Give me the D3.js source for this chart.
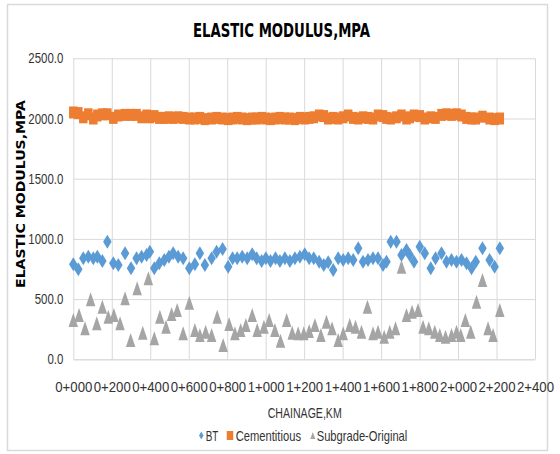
<!DOCTYPE html>
<html><head><meta charset="utf-8">
<script src="https://cdn.jsdelivr.net/npm/d3@7"></script>
<style>body{margin:0;background:#fff} svg{display:block}</style>
</head><body><svg id="c" width="560" height="454"></svg>
<script>
// ---- data ----
const chainage = [0,26,52,78,104,125,151,177,208,234,269,300,329,355,381,398,421,447,473,497,519,545,571,603,632,658,684,719,745,776,805,828,852,878,904,930,953,979,1001,1025,1051,1074,1100,1126,1152,1178,1203,1226,1250,1278,1302,1325,1351,1377,1403,1429,1455,1481,1506,1532,1558,1584,1610,1628,1650,1680,1706,1732,1749,1771,1801,1827,1858,1883,1914,1940,1966,1992,2018,2044,2070,2092,2127,2164,2190,2217];
const bt = [789,747,839,852,839,852,816,977,797,783,880,756,839,852,866,894,756,797,825,852,880,852,839,756,789,880,783,839,894,916,769,839,839,852,839,872,839,816,839,816,839,816,839,816,839,852,872,839,839,811,783,806,742,839,825,839,825,922,811,825,839,839,783,811,977,977,866,908,866,811,935,880,756,839,880,811,825,811,825,797,756,811,922,825,769,922];
const cementitious = [2050,2045,2010,2035,2000,2025,2035,2035,2005,2025,2030,2030,2030,2010,2025,2010,2020,2005,2005,2010,2005,2010,2005,2000,2000,2005,1995,2000,2005,2000,1995,2000,2005,2000,1995,2000,2000,2005,2000,1995,2000,2005,2000,2000,1995,2005,2000,2005,2010,2025,2020,2000,2005,2000,2010,2025,2005,2000,2010,2005,2000,2025,2020,2005,2000,2010,2025,2000,2010,2025,2020,2000,2010,2005,2030,2035,2030,2035,2025,2005,2000,2000,2015,2000,1995,2000];
const subgradeChainage = [0,30,61,90,122,151,182,211,243,269,298,332,361,390,421,450,482,511,540,571,603,632,658,688,719,748,779,810,840,870,897,930,956,991,1018,1048,1077,1109,1138,1169,1198,1226,1256,1287,1316,1345,1377,1403,1437,1467,1498,1529,1558,1584,1616,1645,1675,1706,1732,1761,1792,1818,1848,1879,1905,1935,1966,1992,2014,2038,2066,2096,2127,2156,2182,2217];
const subgrade = [326,368,257,498,299,437,354,368,299,507,160,590,221,673,174,354,271,376,409,216,470,243,202,229,202,354,119,293,216,243,285,368,243,271,326,243,155,326,221,216,216,235,285,202,312,257,160,216,285,271,229,437,216,229,188,229,257,769,368,395,409,271,257,229,202,188,202,229,202,326,229,478,659,257,202,409];
const yTicks = [0,500,1000,1500,2000,2500];
const xTicks = [0,200,400,600,800,1000,1200,1400,1600,1800,2000,2200,2400];
const xTickLabels = ["0+000","0+200","0+400","0+600","0+800","1+000","1+200","1+400","1+600","1+800","2+000","2+200","2+400"];
const seriesNames = ["BT","Cementitious","Subgrade-Original"];
const seriesColors = ["#5B9BD5","#ED7D31","#A5A5A5"];
const titleText = "ELASTIC MODULUS,MPA";
const yTitleText = "ELASTIC MODULUS,MPA";
const xTitleText = "CHAINAGE,KM";

// ---- layout ----
const L = 73.3, R = 535, T = 58.3, B = 359.3;
const svg = d3.select("#c");
const SANS = "'Liberation Sans',Arial,sans-serif";
const TXT = "#333";

svg.append("rect").attr("x",7.5).attr("y",4.5).attr("width",540).attr("height",446)
  .attr("fill","#fff").attr("stroke","#d9d9d9").attr("stroke-width",1.5);

const x = d3.scaleLinear().domain([0,2400]).range([L,R]);
const y = d3.scaleLinear().domain([0,2500]).range([B,T]);

// gridlines
svg.append("g").attr("transform",`translate(${L},0)`)
  .call(d3.axisLeft(y).tickValues(yTicks).tickSize(-(R-L)).tickFormat(""))
  .call(g=>{g.select(".domain").remove(); g.selectAll("line").attr("stroke","#d9d9d9");});
svg.append("g").attr("transform",`translate(0,${B})`)
  .call(d3.axisBottom(x).tickValues(xTicks).tickSize(-(B-T)).tickFormat(""))
  .call(g=>{g.select(".domain").remove(); g.selectAll("line").attr("stroke","#d9d9d9");});

function narrowWidth(s){let w=0; for(const c of s){w += (c==="."?0.278:0.556);} return w*11.45;}

// y tick labels
svg.append("g").attr("transform",`translate(${L},0)`)
  .call(d3.axisLeft(y).tickValues(yTicks).tickSize(0).tickPadding(10).tickFormat(d3.format(".1f")))
  .call(g=>{g.select(".domain").remove();
    g.selectAll("text").attr("font-family",SANS).attr("font-size",14.5).attr("fill",TXT)
      .attr("textLength",function(){return narrowWidth(this.textContent);})
      .attr("lengthAdjust","spacingAndGlyphs");});

// x tick labels
svg.append("g").attr("transform",`translate(0,${B})`)
  .call(d3.axisBottom(x).tickValues(xTicks).tickSize(0).tickPadding(22).tickFormat((d,i)=>xTickLabels[i]))
  .call(g=>{g.select(".domain").attr("stroke","#d9d9d9");
    g.selectAll("text").attr("font-family",SANS).attr("font-size",14.5).attr("fill",TXT)
      .attr("textLength",37).attr("lengthAdjust","spacingAndGlyphs");});

function diamondPath(w,h){return `M0,${-h/2}L${w/2},0L0,${h/2}L${-w/2},0Z`;}
function squarePath(w,h){return `M${-w/2},${-h/2}h${w}v${h}h${-w}Z`;}
function trianglePath(w,h){return `M0,${-h/2}L${w/2},${h/2}L${-w/2},${h/2}Z`;}

const plot = svg.append("g");
plot.append("g").selectAll("path").data(bt).join("path")
  .attr("d",diamondPath(8.5,14)).attr("fill",seriesColors[0])
  .attr("transform",(d,i)=>`translate(${x(chainage[i])},${y(d)})`);
plot.append("g").selectAll("path").data(cementitious).join("path")
  .attr("d",squarePath(8.5,12)).attr("fill",seriesColors[1])
  .attr("transform",(d,i)=>`translate(${x(chainage[i])},${y(d)})`);
plot.append("g").selectAll("path").data(subgrade).join("path")
  .attr("d",trianglePath(9.5,14)).attr("fill",seriesColors[2])
  .attr("transform",(d,i)=>`translate(${x(subgradeChainage[i])},${y(d)})`);

// titles
svg.append("text").attr("x",281.5).attr("y",37.3).attr("text-anchor","middle")
  .attr("font-family","'DejaVu Sans Condensed','DejaVu Sans',sans-serif").attr("font-weight","bold")
  .attr("font-size",19).attr("fill","#000").attr("textLength",177).attr("lengthAdjust","spacingAndGlyphs")
  .text(titleText);
svg.append("text").attr("transform","translate(25,194) rotate(-90)").attr("text-anchor","middle")
  .attr("font-family","'DejaVu Sans',sans-serif").attr("font-weight","bold")
  .attr("font-size",11.5).attr("fill","#000").attr("textLength",188).attr("lengthAdjust","spacingAndGlyphs")
  .text(yTitleText);
svg.append("text").attr("x",304.7).attr("y",418.3).attr("text-anchor","middle")
  .attr("font-family",SANS).attr("font-size",14.5).attr("fill",TXT)
  .attr("textLength",74).attr("lengthAdjust","spacingAndGlyphs").text(xTitleText);

// legend
const legend = [
  {name:seriesNames[0], color:seriesColors[0], path:diamondPath(4.5,8), mx:201.3, tx:205.7, tw:12.6},
  {name:seriesNames[1], color:seriesColors[1], path:squarePath(6.5,9), mx:230, tx:235.7, tw:65.3},
  {name:seriesNames[2], color:seriesColors[2], path:trianglePath(5,7), mx:312.8, tx:316.7, tw:90.6}
];
const lg = svg.append("g");
legend.forEach(it=>{
  lg.append("path").attr("d",it.path).attr("fill",it.color).attr("transform",`translate(${it.mx},435.5)`);
  lg.append("text").attr("x",it.tx).attr("y",441).attr("font-family",SANS).attr("font-size",14.5)
    .attr("fill",TXT).attr("textLength",it.tw).attr("lengthAdjust","spacingAndGlyphs").text(it.name);
});
</script></body></html>
